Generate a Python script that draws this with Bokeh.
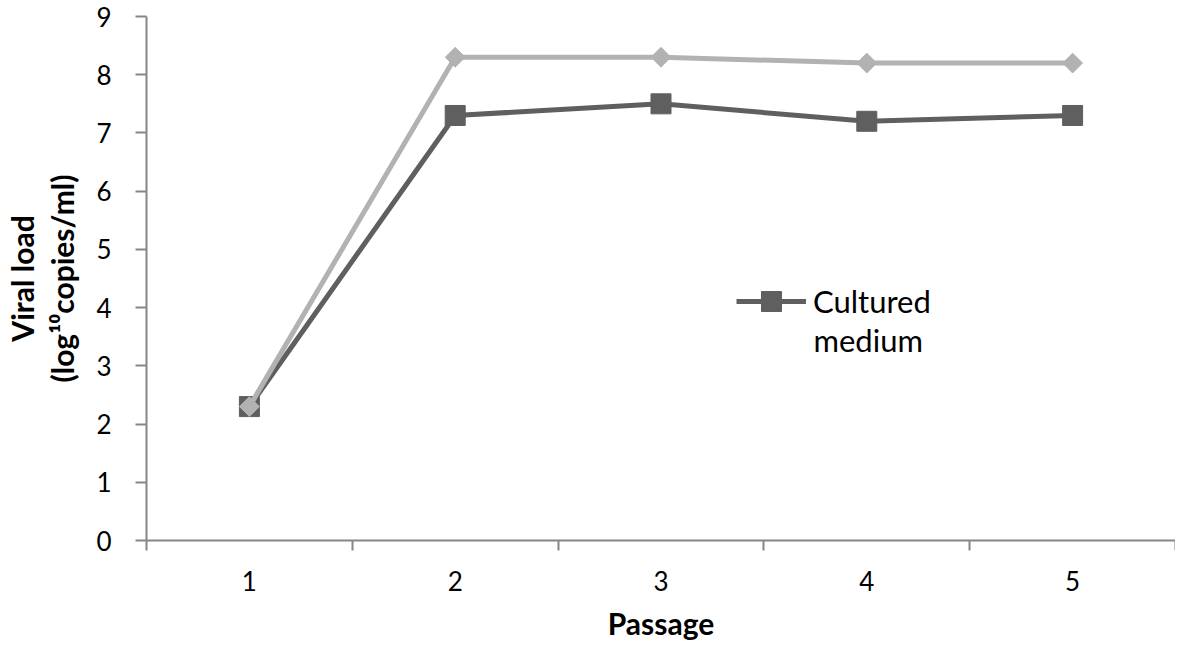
import math
from bokeh.plotting import figure
from bokeh.models import FixedTicker, Legend, LegendItem, Label, Range1d, LinearAxis
from bokeh.embed import file_html
from bokeh.resources import INLINE

passages = [1, 2, 3, 4, 5]
cultured_medium = [2.3, 7.3, 7.5, 7.2, 7.3]
second_series = [2.3, 8.3, 8.3, 8.2, 8.2]
y_ticks = [0, 1, 2, 3, 4, 5, 6, 7, 8, 9]
x_bounds = [0.5, 1.5, 2.5, 3.5, 4.5, 5.5]
legend_label_line1 = "Cultured"
legend_label_line2 = "medium"
y_title_line1 = "Viral load"
y_title_line2 = "(log\u00b9\u2070copies/ml)"
x_title = "Passage"

FONT = "Lato"
AXIS_COLOR = "#868686"
DARK = "#5f5f5f"
LIGHT = "#b2b2b2"

p = figure(width=1175, height=643, output_backend="svg", toolbar_location=None,
           x_range=Range1d(0.5, 5.5), y_range=Range1d(0, 9),
           min_border_left=145, min_border_right=0, min_border_top=16, min_border_bottom=101)
p.outline_line_color = None
p.grid.grid_line_color = None

# x axis
xa = p.xaxis[0]
xa.ticker = FixedTicker(ticks=passages, minor_ticks=x_bounds)
xa.major_tick_out = 0
xa.major_tick_in = 0
xa.minor_tick_out = 10
xa.minor_tick_in = 0
xa.minor_tick_line_color = AXIS_COLOR
xa.minor_tick_line_width = 2
xa.axis_line_color = AXIS_COLOR
xa.axis_line_width = 2
xa.major_label_standoff = 20
xa.major_label_text_font = FONT
xa.major_label_text_font_size = "26px"
xa.major_label_text_color = "black"
xa.axis_label = x_title
xa.axis_label_text_font = FONT
xa.axis_label_text_font_size = "30px"
xa.axis_label_text_font_style = "bold"
xa.axis_label_text_color = "black"
xa.axis_label_standoff = 11

# y axis
ya = p.yaxis[0]
ya.ticker = FixedTicker(ticks=y_ticks, minor_ticks=[])
ya.major_tick_out = 11
ya.major_tick_in = 0
ya.major_tick_line_color = AXIS_COLOR
ya.major_tick_line_width = 2
ya.axis_line_color = AXIS_COLOR
ya.axis_line_width = 2
ya.major_label_standoff = 24
ya.major_label_text_font = FONT
ya.major_label_text_font_size = "26px"
ya.major_label_text_color = "black"
ya.axis_label = y_title_line2
ya.axis_label_text_font = FONT
ya.axis_label_text_font_size = "30px"
ya.axis_label_text_font_style = "bold"
ya.axis_label_text_color = "black"
ya.axis_label_standoff = 13

# outer title line as a bare axis (no line, no ticks)
ya2 = LinearAxis(ticker=FixedTicker(ticks=[], minor_ticks=[]),
                 axis_line_color=None, major_tick_out=0, major_tick_in=0,
                 minor_tick_out=0, minor_tick_in=0, major_label_standoff=0,
                 axis_label=y_title_line1, axis_label_standoff=2,
                 axis_label_text_font=FONT, axis_label_text_font_size="30px",
                 axis_label_text_font_style="bold", axis_label_text_color="black")
p.add_layout(ya2, "left")

# series
l1 = p.line(passages, cultured_medium, line_color=DARK, line_width=5)
s1 = p.scatter(passages, cultured_medium, marker="square", size=20,
               fill_color=DARK, line_color=DARK)
p.line(passages, second_series, line_color=LIGHT, line_width=5)
p.scatter(passages, second_series, marker="square", angle=math.pi / 4, size=14,
          fill_color=LIGHT, line_color=LIGHT)

legend = Legend(items=[LegendItem(label=legend_label_line1, renderers=[l1, s1])],
                location=(590, 214), glyph_width=70, glyph_height=50,
                label_text_font=FONT, label_text_font_size="31px", label_text_color="black",
                border_line_color=None, background_fill_alpha=0, padding=0, margin=0,
                label_standoff=7)
p.add_layout(legend)
p.add_layout(Label(x=0.5, y=0, x_offset=667, y_offset=201, text=legend_label_line2,
                   text_baseline="alphabetic", text_align="left",
                   text_font=FONT, text_font_size="31px", text_color="black"))

open("out.html", "w").write(file_html(p, INLINE))
